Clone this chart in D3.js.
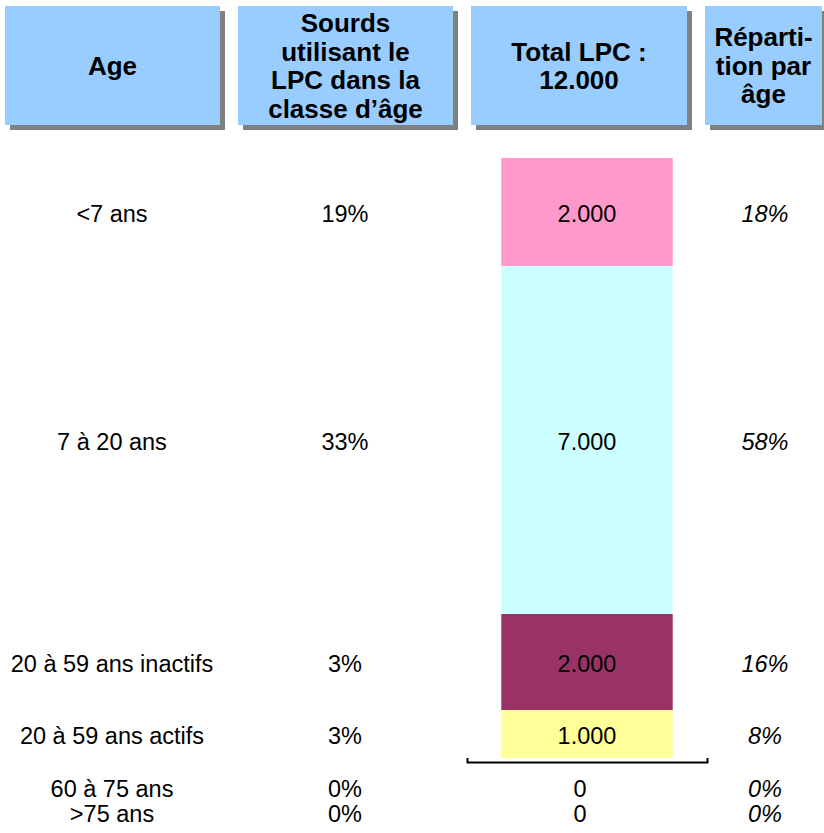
<!DOCTYPE html>
<html>
<head>
<meta charset="utf-8">
<script src="https://cdn.jsdelivr.net/npm/d3@7"></script>
<style>
  body { margin: 0; background: #fff; }
  svg { display: block; font-family: "Liberation Sans", Arial, Helvetica, sans-serif; }
</style>
</head>
<body>
<svg id="chart" width="824" height="833"></svg>
<script>
// data
const ages = ["<7 ans", "7 à 20 ans", "20 à 59 ans inactifs", "20 à 59 ans actifs", "60 à 75 ans", ">75 ans"];
const usage = ["19%", "33%", "3%", "3%", "0%", "0%"];
const counts = [2000, 7000, 2000, 1000, 0, 0];
const shares = [18, 58, 16, 8, 0, 0];
const colors = ["#ff99cc", "#ccffff", "#993366", "#ffff99", "#ffffff", "#ffffff"];
const headers = [
  ["Age"],
  ["Sourds", "utilisant le", "LPC dans la", "classe d’âge"],
  ["Total LPC :", null],
  ["Réparti-", "tion par", "âge"]
];

const fr = d3.formatLocale({ decimal: ",", thousands: ".", grouping: [3], currency: ["", " €"] });
const fmt = fr.format(",");
const total = d3.sum(counts);
headers[2][1] = fmt(total);

const svg = d3.select("#chart");

// header boxes
const cols = [
  { x: 5, w: 215 },
  { x: 238, w: 215 },
  { x: 471, w: 216 },
  { x: 705, w: 117 }
];
const headTop = 6, headH = 119, shadow = 5;

const head = svg.selectAll("g.head")
  .data(headers)
  .enter()
  .append("g")
  .attr("class", "head")
  .attr("transform", (d, i) => `translate(${cols[i].x},${headTop})`);

head.append("rect")
  .attr("x", shadow).attr("y", shadow)
  .attr("width", (d, i) => cols[i].w).attr("height", headH)
  .attr("fill", "#808080");

head.append("rect")
  .attr("width", (d, i) => cols[i].w).attr("height", headH)
  .attr("fill", "#99ccff");

const lineH = 28.5, headFont = 26;
head.each(function (lines, i) {
  const g = d3.select(this);
  g.selectAll("text")
    .data(lines)
    .enter()
    .append("text")
    .attr("x", cols[i].w / 2)
    .attr("y", (d, j) => headH / 2 + (j - (lines.length - 1) / 2) * lineH + headFont * 0.36)
    .attr("text-anchor", "middle")
    .attr("font-weight", "bold")
    .attr("font-size", headFont + "px")
    .attr("fill", "#000")
    .text(d => d);
});

// stacked bar
const y = d3.scaleLinear().domain([0, 100]).range([758, 158]);
const x = d3.scaleBand().domain(["LPC"]).range([467, 707]).paddingInner(0).paddingOuter(0.2);

const rows = ages.map((a, i) => ({ age: a, usage: usage[i], count: counts[i], share: shares[i], color: colors[i] }));
const stackData = [Object.fromEntries(rows.map((r, i) => [i, r.share]))];
const keys = d3.range(rows.length).reverse(); // last rows at bottom
const stacked = d3.stack().keys(keys)(stackData);

const segs = stacked.map(s => ({ idx: +s.key, y0: s[0][0], y1: s[0][1] }));
segs.sort((a, b) => a.idx - b.idx);

svg.append("g")
  .selectAll("rect")
  .data(segs.filter(s => rows[s.idx].share > 0))
  .enter()
  .append("rect")
  .attr("x", x("LPC"))
  .attr("width", x.bandwidth())
  .attr("y", d => y(d.y1))
  .attr("height", d => y(d.y0) - y(d.y1))
  .attr("fill", d => rows[d.idx].color);

// axis bracket under the bar
const axisY = 762;
svg.append("g")
  .attr("transform", `translate(0,${axisY})`)
  .call(d3.axisTop(x).tickSizeInner(0).tickSizeOuter(4).tickFormat(""))
  .call(g => g.select(".domain").attr("stroke", "#000").attr("stroke-width", 2))
  .call(g => g.selectAll(".tick").remove());

// row positions
let zeroN = 0;
rows.forEach((r, i) => {
  const s = segs.find(d => d.idx === i);
  if (r.share > 0) {
    r.cy = (y(s.y0) + y(s.y1)) / 2 + 2;
  } else {
    r.cy = axisY + 27 + zeroN * 25;
    zeroN++;
  }
});

const bodyFont = 23.5;
const textCols = [
  { cx: 112, get: r => r.age },
  { cx: 345, get: r => r.usage },
  { cx: null, get: r => fmt(r.count) },
  { cx: 765, get: r => Math.round(r.share) + "%", italic: true }
];

textCols.forEach((c, ci) => {
  svg.append("g")
    .selectAll("text")
    .data(rows)
    .enter()
    .append("text")
    .attr("x", r => c.cx !== null ? c.cx : (r.share > 0 ? x("LPC") + x.bandwidth() / 2 : 580))
    .attr("y", r => r.cy + bodyFont * 0.36)
    .attr("text-anchor", "middle")
    .attr("font-size", bodyFont + "px")
    .attr("font-style", c.italic ? "italic" : "normal")
    .attr("fill", "#000")
    .text(r => c.get(r));
});
</script>
</body>
</html>
